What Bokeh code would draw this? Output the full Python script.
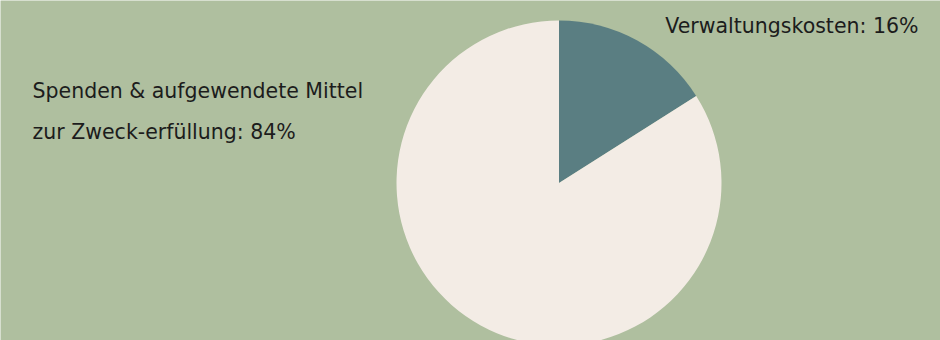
import math
from bokeh.plotting import figure
from bokeh.models import Range1d, ColumnDataSource
from bokeh.core.properties import value
from bokeh.embed import file_html
from bokeh.resources import INLINE

# Data
categories = ["Verwaltungskosten", "Spenden & aufgewendete Mittel\nzur Zweck-erfüllung"]
values = [16, 84]
colors = ["#5a7e82", "#f3ece5"]

W, H = 940, 340
BG = "#afbf9f"
FONT = "DejaVu Sans"
FS = "20.5px"

p = figure(width=W, height=H, output_backend="svg", toolbar_location=None,
           x_range=Range1d(0, W), y_range=Range1d(0, H), min_border=0,
           background_fill_color=BG, border_fill_color=BG)
p.axis.visible = False
p.grid.visible = False
p.outline_line_color = None

# wedges: start at 12 o'clock, clockwise
total = sum(values)
starts, ends = [], []
a = math.pi / 2
for v in values:
    sweep = 2 * math.pi * v / total
    starts.append(a - sweep)
    ends.append(a)
    a -= sweep

cx, cy, r = 558.5, H - 182.5, 162.5
src = ColumnDataSource(dict(start=starts, end=ends, color=colors))
p.wedge(x=cx, y=cy, radius=r, start_angle="start", end_angle="end",
        fill_color="color", line_color=None, source=src)

# labels
lab1 = f"{categories[0]}: {values[0]}%"
l2 = categories[1].split("\n")
lab2a = l2[0]
lab2b = f"{l2[1]}: {values[1]}%"

p.text(x=[918], y=[H - 25], text=[lab1], text_align="right", text_baseline="alphabetic",
       text_font=value(FONT), text_font_size=FS, text_color="#1c1c1c")
p.text(x=[32, 32], y=[H - 90, H - 131], text=[lab2a, lab2b], text_align="left",
       text_baseline="alphabetic", text_font=value(FONT), text_font_size=FS,
       text_color="#1c1c1c")

open("out.html", "w").write(file_html(p, INLINE))
